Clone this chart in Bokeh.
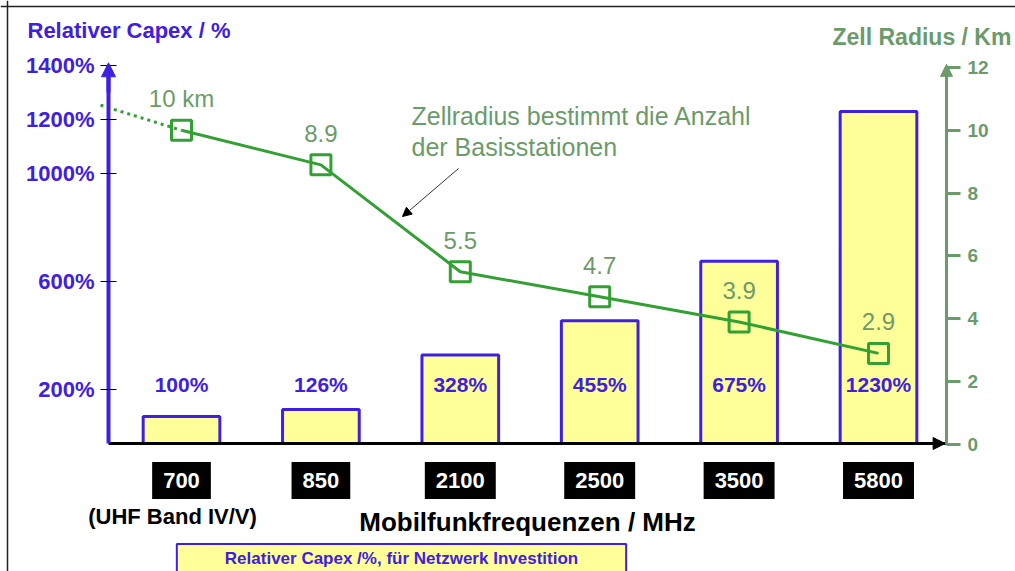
from bokeh.plotting import figure
from bokeh.models import (Range1d, LinearAxis, FixedTicker, PrintfTickFormatter,
                          Label, Arrow, NormalHead, ColumnDataSource, Span)
from bokeh.core.properties import value
from bokeh.embed import file_html
from bokeh.resources import INLINE

# ---------------- data ----------------
frequencies = ["700", "850", "2100", "2500", "3500", "5800"]
capex_pct = [100, 126, 328, 455, 675, 1230]
radius_km = [10, 8.9, 5.5, 4.7, 3.9, 2.9]
radius_labels = ["10 km", "8.9", "5.5", "4.7", "3.9", "2.9"]
trend_start_km = 10.8          # dotted extension of the radius curve to the left
left_ticks = [200, 600, 1000, 1200, 1400]
right_ticks = [0, 2, 4, 6, 8, 10, 12]

BLUE = "#4020e0"
GREEN_LINE = "#33a033"
SAGE = "#6b9b6b"
YELLOW = "#ffff99"
FONT = "Liberation Sans"

W, H = 1015, 571

# layout helpers: convert a pixel position of the page into axis units
def dx(px):
    return (px - 181) / 139.4

def dy(py):
    return (443 - py) / 0.27

def dk(py):
    return (444 - py) / 31.42

idx = list(range(len(frequencies)))

p = figure(width=W, height=H, output_backend="svg", toolbar_location=None,
           title=None, x_axis_location=None, y_axis_location=None,
           x_range=Range1d(dx(0), dx(W)), y_range=Range1d(dy(H), dy(0)),
           min_border=0, min_border_left=0, min_border_right=0,
           min_border_top=0, min_border_bottom=0)
p.outline_line_color = None
p.grid.visible = False
p.background_fill_color = "white"
p.border_fill_color = "white"
p.extra_y_ranges = {"radius": Range1d(dk(H), dk(0))}

# slide border
p.add_layout(Span(location=dx(7), dimension="height", line_color="#222222", line_width=1.5))
p.add_layout(Span(location=dy(6), dimension="width", line_color="#222222", line_width=1.5))

x_left, x_right = dx(108), dx(946)

# ---- axes ----
xaxis = LinearAxis(fixed_location=0, bounds=(x_left, x_right), ticker=FixedTicker(ticks=[]))
xaxis.axis_line_color = "black"
xaxis.axis_line_width = 3
xaxis.major_tick_line_color = None
xaxis.minor_tick_line_color = None
xaxis.axis_label = "Mobilfunkfrequenzen / MHz"
xaxis.axis_label_text_font = FONT
xaxis.axis_label_text_font_size = "26px"
xaxis.axis_label_text_font_style = "bold"
xaxis.axis_label_text_color = "black"
xaxis.axis_label_standoff = 63
p.add_layout(xaxis, "below")

yaxis = LinearAxis(fixed_location=x_left, bounds=(0, 1400), ticker=FixedTicker(ticks=left_ticks),
                   formatter=PrintfTickFormatter(format="%d%%"))
yaxis.axis_line_color = BLUE
yaxis.axis_line_width = 4
yaxis.major_tick_line_color = "black"
yaxis.major_tick_in = 8
yaxis.major_tick_out = 8
yaxis.minor_tick_line_color = None
yaxis.major_label_text_color = BLUE
yaxis.major_label_text_font = FONT
yaxis.major_label_text_font_size = "22px"
yaxis.major_label_text_font_style = "bold"
yaxis.major_label_standoff = 6
p.add_layout(yaxis, "left")

raxis = LinearAxis(y_range_name="radius", fixed_location=x_right, bounds=(0, 12),
                   ticker=FixedTicker(ticks=right_ticks))
raxis.axis_line_color = SAGE
raxis.axis_line_width = 3
raxis.major_tick_line_color = SAGE
raxis.major_tick_line_width = 3
raxis.major_tick_in = 0
raxis.major_tick_out = 14
raxis.minor_tick_line_color = None
raxis.major_label_text_color = SAGE
raxis.major_label_text_font = FONT
raxis.major_label_text_font_size = "19px"
raxis.major_label_text_font_style = "bold"
raxis.major_label_standoff = 7
p.add_layout(raxis, "right")

# axis arrow heads
p.add_layout(Arrow(x_start=x_left, y_start=1300, x_end=x_left, y_end=1410, line_color=BLUE,
                   line_width=4, end=NormalHead(size=14, fill_color=BLUE, line_color=BLUE)))
p.add_layout(Arrow(x_start=x_right, y_start=11, x_end=x_right, y_end=12.1, y_range_name="radius",
                   line_color=SAGE, line_width=3,
                   end=NormalHead(size=12, fill_color=SAGE, line_color=SAGE)))
p.add_layout(Arrow(x_start=x_right - 0.3, y_start=0, x_end=x_right - 0.01, y_end=0,
                   line_color="black", line_width=3,
                   end=NormalHead(size=12, fill_color="black", line_color="black")))

# ---- bars ----
src = ColumnDataSource(dict(x=idx, capex=capex_pct,
                            capex_lbl=[f"{v}%" for v in capex_pct],
                            lbl_y=[220] * len(idx),
                            r=radius_km, r_lbl=radius_labels,
                            r_lbl_y=[v + 1.0 for v in radius_km]))
p.vbar(x="x", top="capex", bottom=0, width=0.55, source=src,
       fill_color=YELLOW, line_color=BLUE, line_width=3)
p.text(x="x", y="lbl_y", text="capex_lbl", source=src, text_align="center",
       text_baseline="middle", text_color=BLUE, text_font=value(FONT),
       text_font_size="21px", text_font_style="bold")

# ---- radius line ----
p.line(x=[dx(100), idx[0]], y=[trend_start_km, radius_km[0]], y_range_name="radius",
       line_color=GREEN_LINE, line_width=3, line_dash="3 4")
p.line(x="x", y="r", source=src, y_range_name="radius",
       line_color=GREEN_LINE, line_width=3)
p.scatter(x="x", y="r", source=src, y_range_name="radius", marker="square", size=20,
          fill_color=None, line_color=GREEN_LINE, line_width=3)
p.text(x="x", y="r_lbl_y", text="r_lbl", source=src, y_range_name="radius",
       text_align="center", text_baseline="middle", text_color=SAGE,
       text_font=value(FONT), text_font_size="24px")

# titles
p.add_layout(Label(x=dx(27), y=dy(30), text="Relativer Capex / %", text_align="left",
                   text_baseline="middle", text_color=BLUE, text_font=FONT,
                   text_font_size="22px", text_font_style="bold"))
p.add_layout(Label(x=dx(832), y=dy(36), text="Zell Radius / Km", text_align="left",
                   text_baseline="middle", text_color=SAGE, text_font=FONT,
                   text_font_size="23px", text_font_style="bold"))

# annotation
p.add_layout(Label(x=dx(411), y=dy(115), text="Zellradius bestimmt die Anzahl",
                   text_align="left", text_baseline="middle", text_color=SAGE,
                   text_font=FONT, text_font_size="25px"))
p.add_layout(Label(x=dx(411), y=dy(146), text="der Basisstationen",
                   text_align="left", text_baseline="middle", text_color=SAGE,
                   text_font=FONT, text_font_size="25px"))
p.add_layout(Arrow(x_start=dx(458), y_start=dy(168), x_end=dx(402), y_end=dy(216),
                   line_color="#333333", line_width=1,
                   end=NormalHead(size=9, fill_color="black", line_color="black")))

# category boxes
for i, f in zip(idx, frequencies):
    p.add_layout(Label(x=i, y=dy(480), text=f, text_align="center",
                       text_baseline="middle", text_color="white", text_font=FONT,
                       text_font_size="22px", text_font_style="bold",
                       background_fill_color="black", padding=11))
p.add_layout(Label(x=dx(172), y=dy(516), text="(UHF Band IV/V)", text_align="center",
                   text_baseline="middle", text_color="black", text_font=FONT,
                   text_font_size="22px", text_font_style="bold"))

# legend-like box
p.add_layout(Label(x=dx(401), y=dy(558), text="Relativer Capex /%, für Netzwerk Investition",
                   text_align="center", text_baseline="middle", text_color=BLUE,
                   text_font=FONT, text_font_size="17px", text_font_style="bold",
                   background_fill_color=YELLOW, border_line_color=BLUE,
                   border_line_width=2, padding=(48, 5)))

open("out.html", "w").write(file_html(p, INLINE))
